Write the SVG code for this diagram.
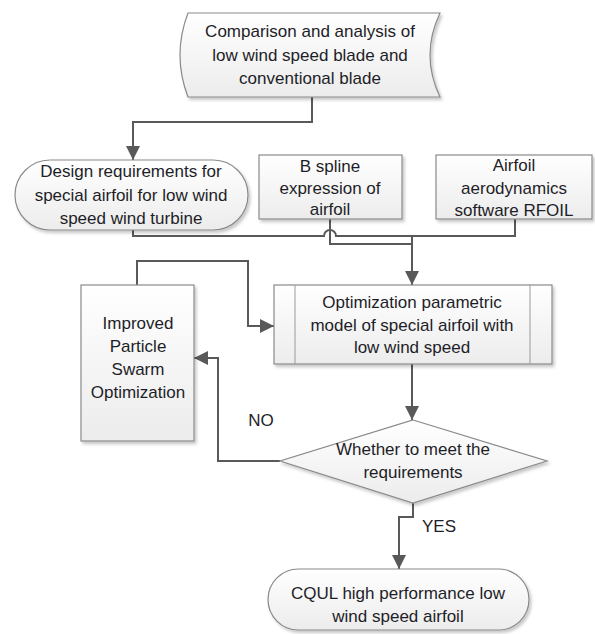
<svg xmlns="http://www.w3.org/2000/svg" width="595" height="634" viewBox="0 0 595 634">
<defs>
<linearGradient id="g" x1="0" y1="0" x2="0" y2="1">
<stop offset="0" stop-color="#ffffff"/>
<stop offset="1" stop-color="#ececec"/>
</linearGradient>
<filter id="sh" x="-10%" y="-10%" width="130%" height="140%">
<feDropShadow dx="2" dy="2.5" stdDeviation="1.5" flood-color="#000" flood-opacity="0.22"/>
</filter>
<marker id="ah" markerUnits="userSpaceOnUse" markerWidth="16" markerHeight="16" refX="14" refY="8" orient="auto">
<path d="M0,1 L14,8 L0,15 Z" fill="#595959"/>
</marker>
<style>
.n{fill:url(#g);stroke:#8a8a8a;stroke-width:1.2;filter:url(#sh)}
.l{fill:none;stroke:#9a9a9a;stroke-width:1}
.t{font-family:"Liberation Sans",Arial,sans-serif;font-size:17px;fill:#1e1e28;text-anchor:middle}
.c{fill:none;stroke:#595959;stroke-width:2}
.a{marker-end:url(#ah)}
</style>
</defs>

<g id="connectors">
<path class="c" d="M312,97 V122 H133 V147"/>
<path class="c" d="M133,230 V236 H324 A6,6 0 0 1 336,236 H515 V219"/>
<path class="c" d="M330,219 V244 H412"/>
<path class="c a" d="M412,236 V285"/>
<path class="c a" d="M137,285 V261 H248 V326 H274"/>
<path class="c a" d="M552,358 H412 V420"/>
<path class="c a" d="M280,461 H218 V358 H194"/>
<path class="c a" d="M413,503 V517 H399 V569"/>
<path d="M133,147 V160" class="c a"/>
</g>

<g id="comparison">
<path class="n" d="M188,13 L440,13 Q420,55 440,97 L188,97 Q172,55 188,13 Z"/>
<text class="t" x="310" y="37">Comparison and analysis of</text>
<text class="t" x="310" y="61">low wind speed blade and</text>
<text class="t" x="310" y="84">conventional blade</text>
</g>

<g id="design">
<rect class="n" x="15" y="160" width="233" height="70" rx="35"/>
<text class="t" x="131" y="177">Design requirements for</text>
<text class="t" x="131" y="201">special airfoil for low wind</text>
<text class="t" x="131" y="224">speed wind turbine</text>
</g>

<g id="bspline">
<rect class="n" x="259" y="155" width="143" height="64"/>
<text class="t" x="330" y="172">B spline</text>
<text class="t" x="330" y="194">expression of</text>
<text class="t" x="330" y="215">airfoil</text>
</g>

<g id="rfoil">
<rect class="n" x="436" y="155" width="156" height="64"/>
<text class="t" x="514" y="171">Airfoil</text>
<text class="t" x="514" y="194">aerodynamics</text>
<text class="t" x="514" y="216">software RFOIL</text>
</g>

<g id="optimization">
<rect class="n" x="274" y="285" width="278" height="79"/>
<line class="l" x1="295" y1="285" x2="295" y2="364"/>
<line class="l" x1="530" y1="285" x2="530" y2="364"/>
<text class="t" x="412" y="308">Optimization parametric</text>
<text class="t" x="412" y="331">model of special airfoil with</text>
<text class="t" x="412" y="353">low wind speed</text>
</g>

<g id="ipso">
<rect class="n" x="81" y="285" width="113" height="156"/>
<text class="t" x="138" y="329">Improved</text>
<text class="t" x="138" y="352">Particle</text>
<text class="t" x="138" y="375">Swarm</text>
<text class="t" x="138" y="398">Optimization</text>
</g>

<g id="decision">
<path class="n" d="M413,420 L547,461 L413,503 L280,461 Z"/>
<text class="t" x="413" y="455">Whether to meet the</text>
<text class="t" x="413" y="478">requirements</text>
</g>

<g id="cqul">
<rect class="n" x="268" y="569" width="261" height="61" rx="30.5"/>
<text class="t" x="398" y="599">CQUL high performance low</text>
<text class="t" x="398" y="622">wind speed airfoil</text>
</g>

<g id="labels">
<text class="t" x="261" y="426">NO</text>
<text class="t" x="439" y="532">YES</text>
</g>
</svg>
